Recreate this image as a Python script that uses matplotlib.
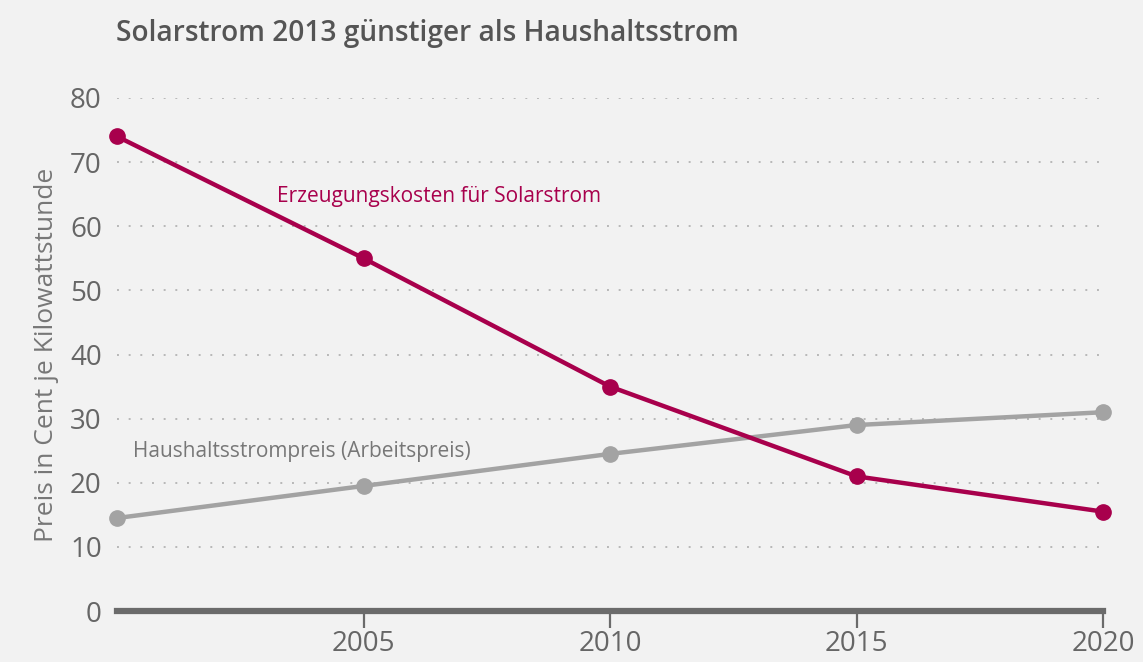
import matplotlib
matplotlib.use('Agg')
import matplotlib.pyplot as plt

years = [2000, 2005, 2010, 2015, 2020]
solar_cost = [74, 55, 35, 21, 15.5]
household_price = [14.5, 19.5, 24.5, 29, 31]
y_ticks = [0, 10, 20, 30, 40, 50, 60, 70, 80]
x_ticks = [2005, 2010, 2015, 2020]

bg = '#f2f2f2'
solar_color = '#a8004c'
house_color = '#a3a3a3'
text_color = '#666666'

plt.rcParams['font.family'] = ['Open Sans', 'DejaVu Sans']

fig = plt.figure(figsize=(11.43, 6.62), dpi=100, facecolor=bg)
ax = fig.add_axes([0.1024, 0.0770, 0.8626, 0.7750], facecolor=bg)

for y in y_ticks[1:]:
    ax.axhline(y, color='#b8b8b8', lw=1.4, ls=(0, (1, 5)), zorder=1)

ax.plot(years, household_price, color=house_color, lw=3.2, marker='o', ms=11,
        clip_on=False, zorder=3)
ax.plot(years, solar_cost, color=solar_color, lw=3.2, marker='o', ms=11,
        clip_on=False, zorder=4)

ax.set_xlim(2000, 2020)
ax.set_ylim(0, 80)
ax.set_yticks(y_ticks)
ax.set_xticks(x_ticks)
ax.tick_params(axis='y', length=0, pad=11, labelsize=20, labelcolor=text_color)
ax.tick_params(axis='x', length=12, width=1.6, color='#6b6b6b', pad=2,
               labelsize=20, labelcolor=text_color)
for s in ['top', 'right', 'left']:
    ax.spines[s].set_visible(False)
ax.spines['bottom'].set_color('#6b6b6b')
ax.spines['bottom'].set_linewidth(4.5)
ax.spines['bottom'].set_zorder(5)

ax.set_ylabel('Preis in Cent je Kilowattstunde', fontsize=19, color='#777777',
              labelpad=8)

ax.text(2003.25, 64.6, 'Erzeugungskosten für Solarstrom', fontsize=15,
        color=solar_color, va='center', ha='left')
ax.text(2000.32, 24.8, 'Haushaltsstrompreis (Arbeitspreis)', fontsize=15,
        color='#777777', va='center', ha='left')

fig.text(116 / 1143, 1 - 34 / 662, 'Solarstrom 2013 günstiger als Haushaltsstrom',
         fontsize=20.2, fontweight='semibold', color='#555555', va='center', ha='left')

fig.savefig('out.png', dpi=100, facecolor=bg)
